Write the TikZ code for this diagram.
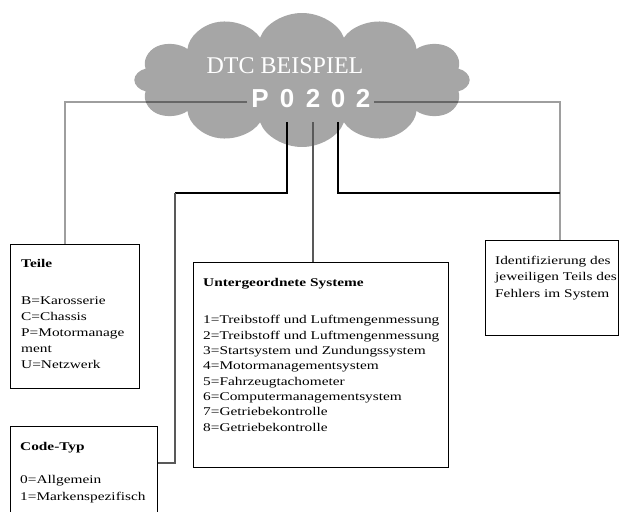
\documentclass[tikz,border=0pt]{standalone}
\usepackage{fontspec}
\usetikzlibrary{shapes.symbols}
\newfontfamily\boxfont[FakeStretch=1.3]{Liberation Serif}
\newfontfamily\cloudfont{Liberation Serif}
\newfontfamily\digitfont{Liberation Sans}
\definecolor{cloudgray}{RGB}{166,166,166}
\tikzset{
  infobox/.style={draw=black, line width=1.1pt, inner sep=0pt, anchor=north west},
  boxtext/.style={anchor=base west, inner sep=0pt, align=left, text=black},
  digit/.style={font=\digitfont\bfseries\fontsize{26}{26}\selectfont, text=white, anchor=base, inner xsep=4pt, inner ysep=0pt},
  outerline/.style={draw=black, draw opacity=0.38, line width=1.4pt},
  innerline/.style={draw=black, line width=1.1pt},
  midline/.style={draw=black!65, line width=1.2pt},
}
\begin{document}
\begin{tikzpicture}[x=1pt, y=-1pt]
\useasboundingbox (0,0) rectangle (623,511);
% cloud
\begin{scope}[xscale=1.3, transform shape]
\node[cloud, cloud puffs=12, cloud puff arc=150, cloud ignores aspect, fill=cloudgray, draw=none,
      minimum width=258pt, minimum height=134pt, inner sep=0pt] (cloud) at (302/1.3,80) {};
\end{scope}
\node[font=\cloudfont\fontsize{24}{24}\selectfont, text=white, anchor=base, inner sep=0pt] (title) at (285,73) {DTC BEISPIEL};
\node[digit] (d1) at (260,107) {P};
\node[digit] (d2) at (287,107) {0};
\node[digit] (d3) at (313,107) {2};
\node[digit] (d4) at (338,107) {0};
\node[digit] (d5) at (363,107) {2};

% boxes
\node[infobox, minimum width=129pt, minimum height=144pt] (teile) at (10,244) {};
\node[infobox, minimum width=147pt, minimum height=90pt] (code) at (10,426) {};
\node[infobox, minimum width=255pt, minimum height=205pt] (unter) at (193,262) {};
\node[infobox, minimum width=133pt, minimum height=95pt] (ident) at (485,240) {};

% texts (base anchor = baseline of last line)
\node[boxtext, font=\boxfont\fontsize{11.8}{16}\selectfont] (teiletext) at (21,368)
  {\textbf{Teile}\\[21pt]B=Karosserie\\C=Chassis\\P=Motormanage\\ment\\U=Netzwerk};
\node[boxtext, font=\boxfont\fontsize{11.8}{17}\selectfont] (codetext) at (20,500)
  {\textbf{Code-Typ}\\[16pt]0=Allgemein\\1=Markenspezifisch};
\node[boxtext, font=\boxfont\fontsize{11.8}{15.3}\selectfont] (untertext) at (203,431)
  {\textbf{Untergeordnete Systeme}\\[21.7pt]1=Treibstoff und Luftmengenmessung\\2=Treibstoff und Luftmengenmessung\\3=Startsystem und Zundungssystem\\4=Motormanagementsystem\\5=Fahrzeugtachometer\\6=Computermanagementsystem\\7=Getriebekontrolle\\8=Getriebekontrolle};
\node[boxtext, font=\boxfont\fontsize{11.8}{16.5}\selectfont] (identtext) at (495,297)
  {Identifizierung des\\jeweiligen Teils des\\Fehlers im System};

% connectors
\coordinate (lc) at (65,244);
\draw[outerline] ([yshift=5pt]d1.base west) -| (lc);
\coordinate (rc) at (560,240);
\draw[outerline] ([yshift=5pt]d5.base east) -| (rc);

\coordinate (cbend) at (175,193);
\draw[innerline] ([yshift=-15pt]d2.base) |- (cbend);
\draw[midline] (cbend) |- (code.east |- 0,463);

\draw[midline] ([yshift=-15pt]d3.base) -- (d3.base |- unter.north);

\draw[innerline] ([yshift=-15pt]d4.base) |- (560,193);
\end{tikzpicture}
\end{document}
